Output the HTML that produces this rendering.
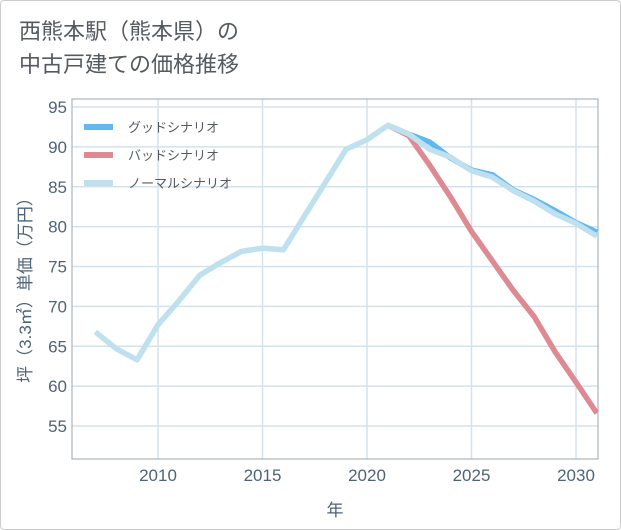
<!DOCTYPE html>
<html><head><meta charset="utf-8"><style>
body{margin:0;background:#fff;}
#wrap{position:relative;width:619px;height:528px;border:1px solid #ccc;border-radius:4px;background:#fff;overflow:hidden;font-family:"Liberation Sans","Noto Sans CJK JP",sans-serif;}
#title{position:absolute;left:18px;top:14px;font-size:22px;line-height:33px;color:#555a60;}
svg{position:absolute;left:0;top:0;}
text{font-family:"Liberation Sans","Noto Sans CJK JP",sans-serif;}
</style></head><body>
<div id="wrap">
<div id="title">西熊本駅（熊本県）の<br>中古戸建ての価格推移</div>
<svg id="chart" width="621" height="530"></svg>
</div>
<script>
const years=[2007,2008,2009,2010,2011,2012,2013,2014,2015,2016,2017,2018,2019,2020,2021,2022,2023,2024,2025,2026,2027,2028,2029,2030,2031];
const normalVals=[66.8,64.7,63.3,67.7,70.7,73.9,75.5,76.9,77.3,77.1,81.3,85.5,89.7,90.9,92.7,91.6,89.7,88.7,87.0,86.2,84.5,83.2,81.6,80.4,78.8];
const goodYears=[2021,2022,2023,2024,2025,2026,2027,2028,2029,2030,2031];
const goodVals=[92.7,91.6,90.6,88.6,87.1,86.5,84.6,83.4,82.0,80.5,79.3];
const badYears=[2021,2022,2023,2024,2025,2026,2027,2028,2029,2030,2031];
const badVals=[92.7,91.4,87.7,83.7,79.4,75.7,72.0,68.7,64.3,60.5,56.6];
const xTicks=[2010,2015,2020,2025,2030];
const yTicks=[55,60,65,70,75,80,85,90,95];
const legendLabels=["グッドシナリオ","バッドシナリオ","ノーマルシナリオ"];
const NS="http://www.w3.org/2000/svg";
const svg=document.getElementById('chart');
const L=71,R=597,T=98,B=458;
const X=y=>157+(y-2010)*(575-157)/20;
const Y=v=>106+(95-v)*(425-106)/40;
const tickCol='#4f6378';
function mk(t,a){const e=document.createElementNS(NS,t);for(const k in a)e.setAttribute(k,a[k]);svg.appendChild(e);return e;}
const clip=mk('clipPath',{id:'pc'});const cr=document.createElementNS(NS,'rect');
cr.setAttribute('x',L);cr.setAttribute('y',T);cr.setAttribute('width',R-L);cr.setAttribute('height',B-T);clip.appendChild(cr);
for(const t of yTicks){
 const g=mk('line',{x1:L,x2:R,y1:Y(t),y2:Y(t),stroke:'#d5e2ec','stroke-width':1.5});
 
 const tx=mk('text',{x:L-5,y:Y(t)+6,'text-anchor':'end','font-size':17,fill:tickCol});tx.textContent=t;
 
}
for(const t of xTicks){
 const g=mk('line',{x1:X(t),x2:X(t),y1:T,y2:B,stroke:'#d5e2ec','stroke-width':1.5});
 
 const tx=mk('text',{x:X(t),y:B+22,'text-anchor':'middle','font-size':17,fill:tickCol});tx.textContent=t;
 
}
const fr=mk('rect',{x:L,y:T,width:R-L,height:B-T,fill:'none',stroke:'#9aa5ae','stroke-width':1});

function line(xs,vs,color,w,name){
 const p=mk('polyline',{points:xs.map((x,i)=>X(x)+','+Y(vs[i])).join(' '),fill:'none',stroke:color,'stroke-width':w,'stroke-linejoin':'round','clip-path':'url(#pc)'});
 
}
line(goodYears,goodVals,'#63b7ef',5.5,'good-scenario-line');
line(badYears,badVals,'#de8a92',5.5,'bad-scenario-line');
line(years,normalVals,'#bfe0ee',5.5,'normal-scenario-line');
const cols=['#63b7ef','#de8a92','#bfe0ee'];
legendLabels.forEach((lb,i)=>{
 const y=126+i*28;
 const s=mk('line',{x1:83,x2:112,y1:y,y2:y,stroke:cols[i],'stroke-width':6});
 
 const t=mk('text',{x:127,y:y+5,'font-size':13,fill:'#555a60'});t.textContent=lb;
 
});
const xt=mk('text',{x:334,y:515,'text-anchor':'middle','font-size':17,fill:tickCol});xt.textContent='年';

const yt=mk('text',{x:0,y:0,'text-anchor':'middle','font-size':17,fill:tickCol,transform:'translate(30,285) rotate(-90)'});yt.textContent='坪（3.3㎡）単価（万円）';

</script>
</body></html>
